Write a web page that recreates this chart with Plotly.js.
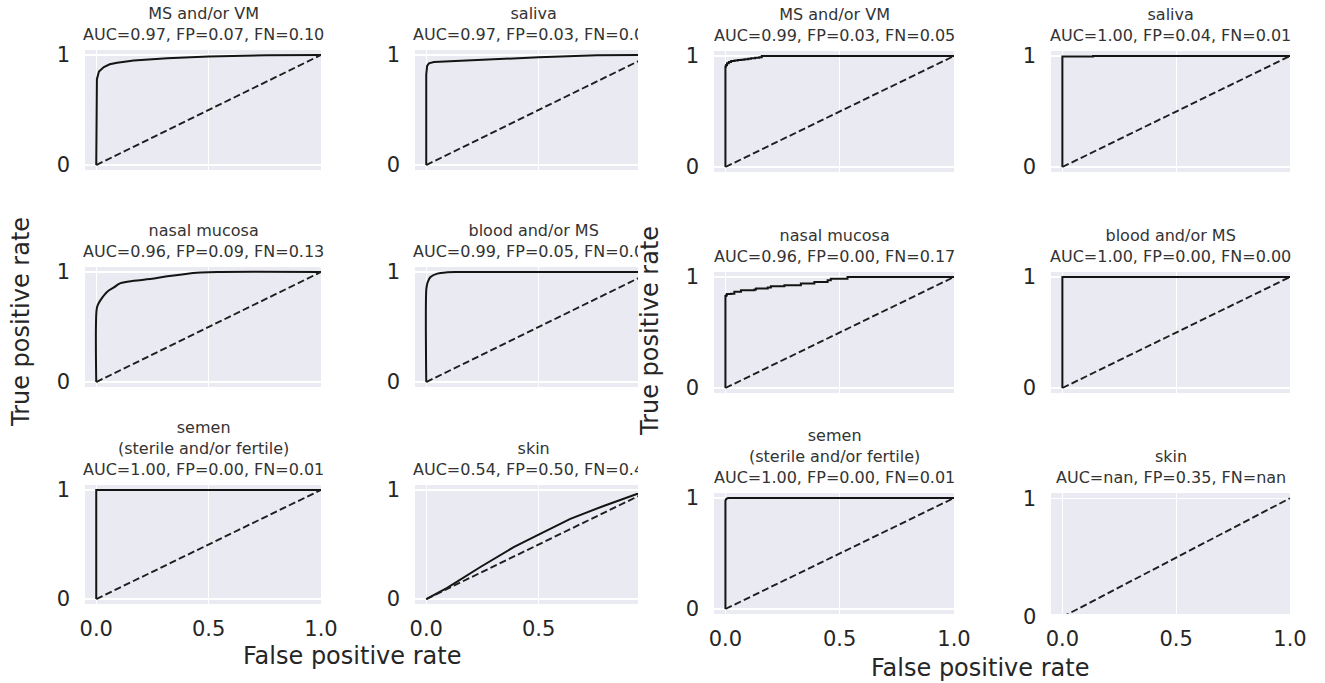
<!DOCTYPE html>
<html><head><meta charset="utf-8">
<script src="https://cdn.plot.ly/plotly-3.0.1.min.js"></script>
<style>
html,body{margin:0;padding:0;background:#fff;}
#wrapL{position:absolute;left:0;top:0;width:638px;height:683px;overflow:hidden;}
#figL{width:665px;height:683px;}
#figR{position:absolute;left:638px;top:0;width:687px;height:683px;}
</style></head><body>
<div id="wrapL"><div id="figL"></div></div>
<div id="figR"></div>
<script>
// ---------- data ----------
const xTickVals = [0, 0.5, 1];
const xTickText = ["0.0", "0.5", "1.0"];
const yTickVals = [0, 1];
const yTickText = ["0", "1"];
const diagX = [0, 1];
const diagY = [0, 1];
const xAxisTitle = "False positive rate";
const yAxisTitle = "True positive rate";

// left figure
const titlesA = [
  "MS and/or VM<br>AUC=0.97, FP=0.07, FN=0.10",
  "saliva<br>AUC=0.97, FP=0.03, FN=0.08",
  "nasal mucosa<br>AUC=0.96, FP=0.09, FN=0.13",
  "blood and/or MS<br>AUC=0.99, FP=0.05, FN=0.03",
  "semen<br>(sterile and/or fertile)<br>AUC=1.00, FP=0.00, FN=0.01",
  "skin<br>AUC=0.54, FP=0.50, FN=0.42"
];
const msA_fpr = [0, 0, 0.003, 0.012, 0.034, 0.06, 0.093, 0.167, 0.316, 0.5, 0.76, 1.0];
const msA_tpr = [0, 0.70, 0.78, 0.85, 0.89, 0.915, 0.93, 0.95, 0.97, 0.985, 0.997, 1.0];
const salivaA_fpr = [0, 0, 0.004, 0.012, 0.034, 0.2, 0.5, 0.76, 0.92, 1.0];
const salivaA_tpr = [0, 0.82, 0.90, 0.924, 0.936, 0.952, 0.979, 0.997, 1.0, 1.0];
const nasalA_fpr = [0, 0.0015, 0.007, 0.019, 0.049, 0.079, 0.108, 0.167, 0.24, 0.316, 0.39, 0.464, 0.54, 1.0];
const nasalA_tpr = [0, 0.654, 0.70, 0.744, 0.82, 0.86, 0.898, 0.92, 0.935, 0.96, 0.98, 0.994, 1.0, 1.0];
const bloodA_fpr = [0, 0, 0.003, 0.007, 0.019, 0.049, 0.093, 0.15, 1.0];
const bloodA_tpr = [0, 0.834, 0.88, 0.91, 0.955, 0.985, 0.997, 1.0, 1.0];
const semenA_fpr = [0, 0, 1.0];
const semenA_tpr = [0, 1.0, 1.0];
const skinA_fpr = [0, 0.093, 0.241, 0.389, 0.5, 0.641, 0.789, 0.937, 1.0];
const skinA_tpr = [0, 0.103, 0.294, 0.476, 0.59, 0.735, 0.853, 0.962, 1.0];

// right figure
const titlesB = [
  "MS and/or VM<br>AUC=0.99, FP=0.03, FN=0.05",
  "saliva<br>AUC=1.00, FP=0.04, FN=0.01",
  "nasal mucosa<br>AUC=0.96, FP=0.00, FN=0.17",
  "blood and/or MS<br>AUC=1.00, FP=0.00, FN=0.00",
  "semen<br>(sterile and/or fertile)<br>AUC=1.00, FP=0.00, FN=0.01",
  "skin<br>AUC=nan, FP=0.35, FN=nan"
];
const msB_fpr = [0, 0, 0.003, 0.007, 0.015, 0.025, 0.04, 0.054, 0.07, 0.083, 0.1, 0.112, 0.13, 0.148, 0.159, 1.0];
const msB_tpr = [0, 0.905, 0.92, 0.935, 0.945, 0.955, 0.96, 0.964, 0.967, 0.97, 0.975, 0.979, 0.985, 0.988, 1.0, 1.0];
const salivaB_fpr = [0, 0, 0.135, 1.0];
const salivaB_tpr = [0, 0.995, 1.0, 1.0];
const nasalB_fpr = [0, 0, 0.004, 0.007, 0.025, 0.039, 0.068, 0.127, 0.134, 0.185, 0.199, 0.258, 0.33, 0.389, 0.447, 0.461, 0.534, 1.0];
const nasalB_tpr = [0, 0.828, 0.84, 0.846, 0.85, 0.866, 0.881, 0.887, 0.896, 0.905, 0.917, 0.926, 0.941, 0.955, 0.97, 0.985, 1.0, 1.0];
const bloodB_fpr = [0, 0, 1.0];
const bloodB_tpr = [0, 1.0, 1.0];
const semenB_fpr = [0, 0, 0.004, 0.012, 1.0];
const semenB_tpr = [0, 0.975, 0.993, 1.0, 1.0];
const skinB_fpr = [];
const skinB_tpr = [];

// ---------- drawing ----------
const TXT = '#262626';
const FONT = 'DejaVu Sans, Liberation Sans, sans-serif';

function build(divId, W, H, cols, rows, titles, curves, shapes, yRanges, xTitlePos, yTitlePos) {
  const data = [];
  const layout = {
    width: W, height: H, margin: {l: 0, r: 0, t: 0, b: 0},
    paper_bgcolor: '#ffffff', plot_bgcolor: '#EAEAF2', showlegend: false,
    font: {family: FONT, color: TXT}, annotations: []
  };
  titles.forEach((t, i) => {
    const r = Math.floor(i / 2), c = i % 2, k = i + 1;
    const sfx = k > 1 ? String(k) : '';
    layout['xaxis' + sfx] = {
      domain: [cols[c][0] / W, cols[c][1] / W], anchor: 'y' + sfx,
      range: [-0.05, 1.0], tickvals: xTickVals, ticktext: xTickText,
      showticklabels: r === 2, showgrid: true, gridcolor: '#ffffff', gridwidth: 1.2,
      zeroline: false, showline: false, ticks: '', ticklabelstandoff: 10,
      tickfont: {size: 21, color: TXT, family: FONT}, fixedrange: true
    };
    const yr = yRanges[i];
    layout['yaxis' + sfx] = {
      domain: [1 - rows[r][1] / H, 1 - rows[r][0] / H], anchor: 'x' + sfx,
      range: yr, tickvals: yTickVals, ticktext: yTickText,
      showgrid: true, gridcolor: '#ffffff', gridwidth: 1.2,
      zeroline: false, showline: false, ticks: '', ticklabelstandoff: 14,
      tickfont: {size: 21, color: TXT, family: FONT}, fixedrange: true
    };
    // the original still prints the "0" tick label when 0 lies just below the axis range
    if (yr[0] > 0) {
      const pxPerUnit = (rows[r][1] - rows[r][0]) / (yr[1] - yr[0]);
      const py = rows[r][1] + yr[0] * pxPerUnit;
      layout.annotations.push({
        text: yTickText[0], xref: 'paper', yref: 'paper', x: cols[c][0] / W, y: 1 - py / H,
        xanchor: 'right', yanchor: 'middle', xshift: -13, showarrow: false,
        font: {size: 21, color: TXT, family: FONT}
      });
    }
    const cv = curves[i];
    if (cv[0].length) {
      data.push({x: cv[0], y: cv[1], xaxis: 'x' + sfx, yaxis: 'y' + sfx, mode: 'lines',
        line: {color: '#141414', width: 2, shape: shapes[i]}, hoverinfo: 'skip'});
    }
    data.push({x: diagX, y: diagY, xaxis: 'x' + sfx, yaxis: 'y' + sfx, mode: 'lines',
      line: {color: '#1e1e1e', width: 1.9, dash: '7px,3.2px'}, hoverinfo: 'skip'});
    layout.annotations.push({
      text: t, xref: 'paper', yref: 'paper',
      x: (cols[c][0] + cols[c][1]) / 2 / W, y: 1 - (rows[r][0] - 4) / H,
      xanchor: 'center', yanchor: 'bottom', showarrow: false,
      font: {size: 16, color: '#333333', family: FONT}
    });
  });
  layout.annotations.push({
    text: xAxisTitle, xref: 'paper', yref: 'paper',
    x: xTitlePos[0] / W, y: 1 - xTitlePos[1] / H, xanchor: 'center', yanchor: 'middle',
    showarrow: false, font: {size: 24, color: TXT, family: FONT}
  });
  layout.annotations.push({
    text: yAxisTitle, xref: 'paper', yref: 'paper', textangle: -90,
    x: yTitlePos[0] / W, y: 1 - yTitlePos[1] / H, xanchor: 'center', yanchor: 'middle',
    showarrow: false, font: {size: 24, color: TXT, family: FONT}
  });
  Plotly.newPlot(divId, data, layout, {staticPlot: true, displayModeBar: false});
}

const stdY = [-0.045, 1.045];

build('figL', 665, 683,
  [[85, 321], [415, 651]],
  [[50, 170], [267, 387], [485, 604]],
  titlesA,
  [[msA_fpr, msA_tpr], [salivaA_fpr, salivaA_tpr], [nasalA_fpr, nasalA_tpr],
   [bloodA_fpr, bloodA_tpr], [semenA_fpr, semenA_tpr], [skinA_fpr, skinA_tpr]],
  ['linear', 'linear', 'spline', 'spline', 'linear', 'linear'],
  [stdY, stdY, stdY, stdY, stdY, stdY],
  [352, 656], [21, 322]);

build('figR', 687, 683,
  [[76, 316], [413, 652]],
  [[51, 172], [272, 393], [493, 614]],
  titlesB,
  [[msB_fpr, msB_tpr], [salivaB_fpr, salivaB_tpr], [nasalB_fpr, nasalB_tpr],
   [bloodB_fpr, bloodB_tpr], [semenB_fpr, semenB_tpr], [skinB_fpr, skinB_tpr]],
  ['hv', 'hv', 'hv', 'linear', 'linear', 'linear'],
  [stdY, stdY, stdY, stdY, stdY, [0.025, 1.044]],
  [342, 668], [12, 331]);
</script>
</body></html>
